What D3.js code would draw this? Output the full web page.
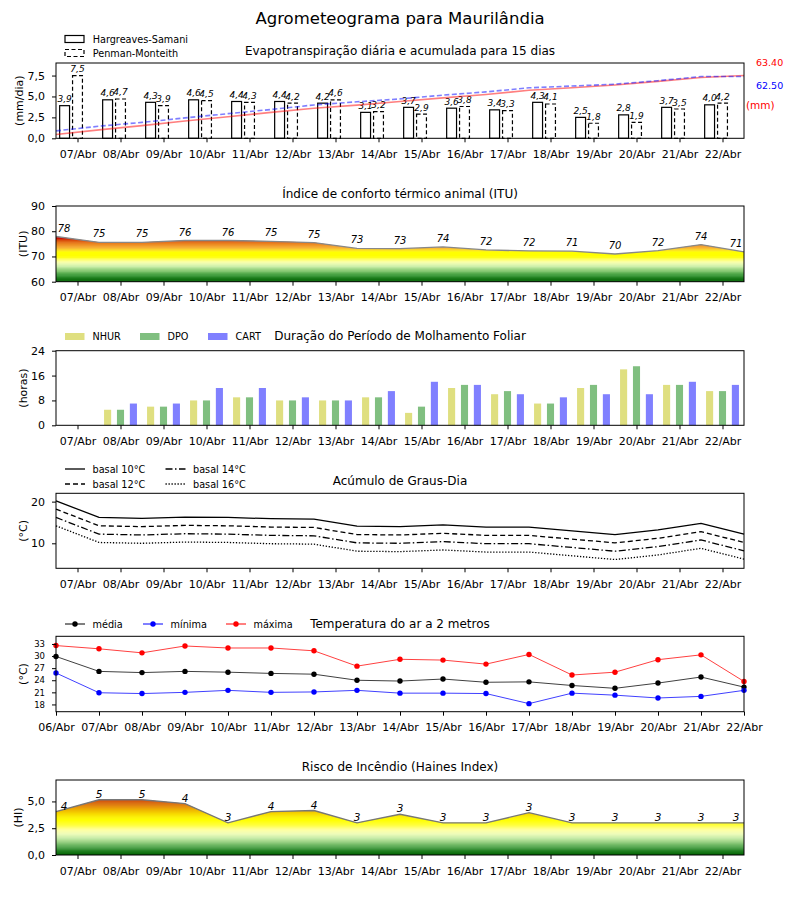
<!DOCTYPE html>
<html><head><meta charset="utf-8">
<script src="https://cdn.jsdelivr.net/npm/d3@7"></script>
<style>body{margin:0;background:#fff} text{font-family:"DejaVu Sans",sans-serif}</style>
</head><body><svg id="c" width="800" height="900"></svg>
<script>
// ---------------- data ----------------
const days = ["07/Abr","08/Abr","09/Abr","10/Abr","11/Abr","12/Abr","13/Abr","14/Abr","15/Abr","16/Abr","17/Abr","18/Abr","19/Abr","20/Abr","21/Abr","22/Abr"];
const daysTemp = ["06/Abr","07/Abr","08/Abr","09/Abr","10/Abr","11/Abr","12/Abr","13/Abr","14/Abr","15/Abr","16/Abr","17/Abr","18/Abr","19/Abr","20/Abr","21/Abr","22/Abr"];
const etHS = [3.9,4.6,4.3,4.6,4.4,4.4,4.2,3.1,3.7,3.6,3.4,4.3,2.5,2.8,3.7,4.0];
const etPM = [7.5,4.7,3.9,4.5,4.3,4.2,4.6,3.2,2.9,3.8,3.3,4.1,1.8,1.9,3.5,4.2];
const acumHS = [3.9,8.5,12.8,17.4,21.8,26.2,30.4,33.5,37.2,40.8,44.2,48.5,51.0,53.8,57.5,61.5,63.4];
const acumPM = [7.5,12.2,16.1,20.6,24.9,29.1,33.7,36.9,39.8,43.6,46.9,51.0,52.8,54.7,58.2,62.4,62.5];
const acumTotals = ["63.40","62.50"];
const etTicks = [0,2.5,5,7.5];
const itu = [77.9,75.6,75.6,76.3,76.3,76.0,75.5,73.2,73.1,73.8,72.6,72.2,72.1,71.0,72.3,74.7,71.8];
const ituLabels = [78,75,75,76,76,75,75,73,73,74,72,72,71,70,72,74,71];
const ituTicks = [60,70,80,90];
const nhur = [0,5,6,8,9,8,8,9,4,12,10,7,12,18,13,11];
const dpo  = [0,5,6,8,9,8,8,9,6,13,11,7,13,19,13,11];
const cart = [0,7,7,12,12,9,8,11,14,13,10,9,10,10,14,13];
const molTicks = [0,8,16,24];
const gd10 = [20.2,16.2,16.0,16.3,16.2,15.9,15.8,14.1,14.0,14.4,13.9,13.9,13.0,12.1,13.2,14.8,12.2];
const gd12 = [18.2,14.2,14.0,14.3,14.2,13.9,13.8,12.1,12.0,12.4,11.9,11.9,11.0,10.1,11.2,12.8,10.2];
const gd14 = [16.2,12.2,12.0,12.3,12.2,11.9,11.8,10.1,10.0,10.4,9.9,9.9,9.0,8.1,9.2,10.8,8.2];
const gd16 = [14.2,10.2,10.0,10.3,10.2,9.9,9.8,8.1,8.0,8.4,7.9,7.9,7.0,6.1,7.2,8.8,6.2];
const gdTicks = [10,20];
const tMed = [29.9,26.2,25.9,26.2,26.0,25.7,25.5,24.0,23.8,24.3,23.5,23.6,22.7,22.0,23.3,24.8,22.3];
const tMin = [25.8,20.9,20.7,21.0,21.5,21.0,21.1,21.5,20.8,20.8,20.7,18.2,20.8,20.3,19.6,20.0,21.5];
const tMax = [32.6,31.8,30.8,32.5,32.0,32.0,31.3,27.5,29.2,29.0,28.0,30.4,25.3,26.0,29.1,30.3,23.7];
const tTicks = [18,21,24,27,30,33];
const haines = [4.05,5.15,5.15,4.8,3.0,4.05,4.15,3.0,3.8,3.0,3.0,3.95,3.0,3.0,3.0,3.0,3.0];
const hainesLabels = ["4","5","5","4","3","4","4","3","3","3","3","3","3","3","3","3","3"];
const hTicks = [0,2.5,5];

// ---------------- layout ----------------
const svg = d3.select("#c");
const L = 56, R = 744;
const x = d3.scaleLinear().domain([-0.5, 15.5]).range([L, R]);
const half = d => d.map((v,k)=>[k-0.5, v]);
const comma = d => d.toFixed(1).replace(".", ",");
const FONT = "DejaVu Sans";

function frame(top, bottom){
  svg.append("rect").attr("x",L).attr("y",top).attr("width",R-L).attr("height",bottom-top)
    .attr("fill","none").attr("stroke","#000").attr("stroke-width",1);
}
function xAxis(bottom, vals, fmt){
  const g = svg.append("g").attr("transform",`translate(0,${bottom})`)
    .call(d3.axisBottom(x).tickValues(vals).tickFormat(fmt).tickSize(4).tickPadding(8));
  g.select(".domain").remove();
  g.selectAll("text").attr("font-size",11).attr("font-family",FONT).attr("fill","#000");
  g.selectAll("line").attr("stroke","#000");
}
function yAxis(y, vals, fmt, size){
  const g = svg.append("g").attr("transform",`translate(${L},0)`)
    .call(d3.axisLeft(y).tickValues(vals).tickFormat(fmt).tickSize(4).tickPadding(7));
  g.select(".domain").remove();
  g.selectAll("text").attr("font-size",size||11).attr("font-family",FONT).attr("fill","#000");
  g.selectAll("line").attr("stroke","#000");
}
function yLabel(txt, cx, cy){
  svg.append("text").attr("transform",`translate(${cx},${cy}) rotate(-90)`)
    .attr("text-anchor","middle").attr("dominant-baseline","central")
    .attr("font-size",11).text(txt);
}
function title(txt, y, size){
  svg.append("text").attr("x",400).attr("y",y).attr("text-anchor","middle")
    .attr("font-size",size||12).text(txt);
}
function legText(txt, xx, yy){
  svg.append("text").attr("x",xx).attr("y",yy).attr("dominant-baseline","central")
    .attr("font-size",9.7).text(txt);
}
const dayTicks = d3.range(16);
const dayFmt = i => days[i];

// main title
title("Agrometeograma para Maurilândia", 24, 16.5);

// ---------------- Panel 1: ET ----------------
{
  const top=63, bottom=138.3;
  const y = d3.scaleLinear().domain([0,9]).range([bottom,top]);
  const y2 = d3.scaleLinear().domain([0,76.08]).range([bottom,top]);
  const bw = x(0.23)-x(0);
  const g = svg.append("g");
  g.selectAll(".hs").data(etHS).join("rect")
    .attr("x",(d,i)=>x(i-0.3)-bw/2).attr("y",d=>y(d)).attr("width",bw).attr("height",d=>y(0)-y(d))
    .attr("fill","none").attr("stroke","#000").attr("stroke-width",1.2);
  g.selectAll(".pm").data(etPM).join("rect")
    .attr("x",(d,i)=>x(i)-bw/2).attr("y",d=>y(d)).attr("width",bw).attr("height",d=>y(0)-y(d))
    .attr("fill","none").attr("stroke","#000").attr("stroke-width",1.2).attr("stroke-dasharray","4,2.5");
  g.selectAll(".hsl").data(etHS).join("text")
    .attr("x",(d,i)=>x(i-0.3)).attr("y",d=>y(d)-3.5).attr("text-anchor","middle")
    .attr("font-size",9).attr("font-style","italic").text(comma);
  g.selectAll(".pml").data(etPM).join("text")
    .attr("x",(d,i)=>x(i)).attr("y",d=>y(d)-3.5).attr("text-anchor","middle")
    .attr("font-size",9).attr("font-style","italic").text(comma);
  const line = d3.line().x(d=>x(d[0])).y(d=>y2(d[1]));
  svg.append("path").attr("d",line(half(acumHS))).attr("fill","none")
    .attr("stroke","#ff0000").attr("stroke-opacity",0.5).attr("stroke-width",1.6);
  svg.append("path").attr("d",line(half(acumPM))).attr("fill","none")
    .attr("stroke","#0000ff").attr("stroke-opacity",0.5).attr("stroke-width",1.6).attr("stroke-dasharray","5,2.5");
  svg.append("text").attr("x",756).attr("y",66).attr("font-size",9.5).attr("fill","#ff0000").text(acumTotals[0]);
  svg.append("text").attr("x",756).attr("y",89).attr("font-size",9.5).attr("fill","#0000ff").text(acumTotals[1]);
  svg.append("text").attr("x",746).attr("y",109).attr("font-size",10.5).attr("fill","#ff0000").text("(mm)");
  frame(top,bottom);
  xAxis(bottom, dayTicks, dayFmt);
  yAxis(y, etTicks, comma);
  yLabel("(mm/dia)", 19, (top+bottom)/2);
  title("Evapotranspiração diária e acumulada para 15 dias", 55);
  svg.append("rect").attr("x",65).attr("y",35.5).attr("width",19).attr("height",7).attr("fill","none").attr("stroke","#000").attr("stroke-width",1.2);
  svg.append("rect").attr("x",65).attr("y",49.5).attr("width",19).attr("height",7).attr("fill","none").attr("stroke","#000").attr("stroke-width",1.2).attr("stroke-dasharray","4,2.5");
  legText("Hargreaves-Samani", 92.7, 39);
  legText("Penman-Monteith", 92.7, 53);
}

// gradient-filled area helper
function gradArea(id, data, y, y0, y1, step, color, lineColor){
  const area = d3.area().x(d=>x(d[0])).y0(y(y0)).y1(d=>y(d[1]));
  svg.append("clipPath").attr("id",id).append("path").attr("d",area(half(data)));
  const g = svg.append("g").attr("clip-path",`url(#${id})`);
  const bands = d3.range(y0, y1, step);
  g.selectAll("rect").data(bands).join("rect")
    .attr("x",L).attr("width",R-L)
    .attr("y",v=>y(v+step)-0.3).attr("height",v=>y(v)-y(v+step)+0.6)
    .attr("fill",v=>color(v+step/2));
  const line = d3.line().x(d=>x(d[0])).y(d=>y(d[1]));
  svg.append("path").attr("d",line(half(data))).attr("fill","none")
    .attr("stroke",lineColor).attr("stroke-width",1.4);
}
function pointLabels(data, labels, y, dy, size){
  svg.append("g").selectAll("text").data(data).join("text")
    .attr("x",(d,k)=>x(k-0.5) + (k===0?8:(k===data.length-1?-8:0)))
    .attr("y",d=>y(d)-dy).attr("text-anchor","middle")
    .attr("font-size",size).attr("font-style","italic").text((d,k)=>labels[k]);
}

// ---------------- Panel 2: ITU ----------------
{
  const top=206, bottom=281.7;
  const y = d3.scaleLinear().domain([60,90]).range([bottom,top]);
  const col = d3.scaleLinear()
    .domain([60,61,62,63,64,65,66,67,68,69,70,72,72.7,73.5,74.5,75.5,76.5,77.3,80])
    .range(["#006000","#107010","#2a8a2a","#4aa345","#73bd64","#9dd584","#c5eba4","#e6f9b4","#fbffa8","#ffff60","#ffff00","#ffff00","#fcd830","#f8b232","#f09628","#e6781a","#d9500c","#cc0a00","#c00000"])
    .clamp(true);
  gradArea("clipITU", itu, y, 60, 90, 0.5, col, "#888");
  pointLabels(itu, ituLabels, y, 5, 10);
  frame(top,bottom);
  xAxis(bottom, dayTicks, dayFmt);
  yAxis(y, ituTicks, d=>d);
  yLabel("(ITU)", 23, (top+bottom)/2);
  title("Índice de conforto térmico animal (ITU)", 198);
}

// ---------------- Panel 3: Molhamento ----------------
{
  const top=350.7, bottom=425.3;
  const y = d3.scaleLinear().domain([0,24]).range([bottom,top]);
  const bw = x(0.165)-x(0);
  const series = [[nhur,-0.3,"#dfdf80"],[dpo,0,"#80bf80"],[cart,0.3,"#8080ff"]];
  series.forEach(([arr,off,c])=>{
    svg.append("g").selectAll("rect").data(arr).join("rect")
      .attr("x",(d,i)=>x(i+off)-bw/2).attr("y",d=>y(d)).attr("width",bw).attr("height",d=>y(0)-y(d))
      .attr("fill",c);
  });
  frame(top,bottom);
  xAxis(bottom, dayTicks, dayFmt);
  yAxis(y, molTicks, d=>d);
  yLabel("(horas)", 23, (top+bottom)/2);
  title("Duração do Período de Molhamento Foliar", 340);
  [["NHUR",65,"#dfdf80"],["DPO",140,"#80bf80"],["CART",208,"#8080ff"]].forEach(([t,xx,c])=>{
    svg.append("rect").attr("x",xx).attr("y",333).attr("width",19.5).attr("height",7).attr("fill",c);
    legText(t, xx+27.5, 336.5);
  });
}

// ---------------- Panel 4: Graus-dia ----------------
{
  const top=493.3, bottom=568.3;
  const y = d3.scaleLinear().domain([4,22]).range([bottom,top]);
  const line = d3.line().x(d=>x(d[0])).y(d=>y(d[1]));
  const styles = [[gd10,null],[gd12,"5,3"],[gd14,"7,2.5,1.5,2.5"],[gd16,"1.3,1.7"]];
  styles.forEach(([arr,dash])=>{
    const p = svg.append("path").attr("d",line(half(arr))).attr("fill","none").attr("stroke","#000").attr("stroke-width",1.3);
    if(dash) p.attr("stroke-dasharray",dash);
  });
  frame(top,bottom);
  xAxis(bottom, dayTicks, dayFmt);
  yAxis(y, gdTicks, d=>d);
  yLabel("(°C)", 23, (top+bottom)/2);
  title("Acúmulo de Graus-Dia", 485);
  const leg = [["basal 10°C",65,469,null],["basal 12°C",65,484,"5,3"],["basal 14°C",165.5,469,"7,2.5,1.5,2.5"],["basal 16°C",165.5,484,"1.3,1.7"]];
  leg.forEach(([t,xx,yy,dash])=>{
    const l = svg.append("line").attr("x1",xx).attr("x2",xx+20).attr("y1",yy).attr("y2",yy).attr("stroke","#000").attr("stroke-width",1.3);
    if(dash) l.attr("stroke-dasharray",dash);
    legText(t, xx+27.5, yy);
  });
}

// ---------------- Panel 5: Temperatura ----------------
{
  const top=636.3, bottom=711.7;
  const y = d3.scaleLinear().domain([16.2,34.9]).range([bottom,top]);
  const line = d3.line().x(d=>x(d[0])).y(d=>y(d[1]));
  const ser = [[tMed,"#000"],[tMin,"#0000ff"],[tMax,"#ff0000"]];
  ser.forEach(([arr,c])=>{
    svg.append("path").attr("d",line(half(arr))).attr("fill","none").attr("stroke",c).attr("stroke-width",1).attr("stroke-opacity",0.75);
    svg.append("g").selectAll("circle").data(half(arr)).join("circle")
      .attr("cx",d=>x(d[0])).attr("cy",d=>y(d[1])).attr("r",2.7).attr("fill",c);
  });
  frame(top,bottom);
  xAxis(bottom, d3.range(17).map(k=>k-0.5), v=>daysTemp[Math.round(v+0.5)]);
  yAxis(y, tTicks, d=>d, 8.5);
  yLabel("(°C)", 23, (top+bottom)/2);
  title("Temperatura do ar a 2 metros", 628);
  [["média",65,"#000"],["mínima",143,"#0000ff"],["máxima",226,"#ff0000"]].forEach(([t,xx,c])=>{
    svg.append("line").attr("x1",xx).attr("x2",xx+20).attr("y1",624).attr("y2",624).attr("stroke",c).attr("stroke-width",1);
    svg.append("circle").attr("cx",xx+10).attr("cy",624).attr("r",2.7).attr("fill",c);
    legText(t, xx+27.5, 624);
  });
}

// ---------------- Panel 6: Haines ----------------
{
  const top=780, bottom=855;
  const y = d3.scaleLinear().domain([0,7]).range([bottom,top]);
  const col = d3.scaleLinear()
    .domain([0,0.4,0.8,1.2,1.6,2.0,2.4,2.8,3.3,3.8,4.2,4.6,5.0,5.4,7])
    .range(["#006000","#228022","#55a850","#94cf80","#c8ecaa","#eefcb8","#ffffa0","#ffff40","#ffff00","#f8e000","#f0b800","#e48a10","#d45a08","#c83000","#c00000"])
    .clamp(true);
  gradArea("clipH", haines, y, 0, 7, 0.1, col, "#777");
  pointLabels(haines, hainesLabels, y, 2, 10.5);
  frame(top,bottom);
  xAxis(bottom, dayTicks, dayFmt);
  yAxis(y, hTicks, comma);
  yLabel("(HI)", 18, (top+bottom)/2);
  title("Risco de Incêndio (Haines Index)", 771);
}
</script></body></html>
